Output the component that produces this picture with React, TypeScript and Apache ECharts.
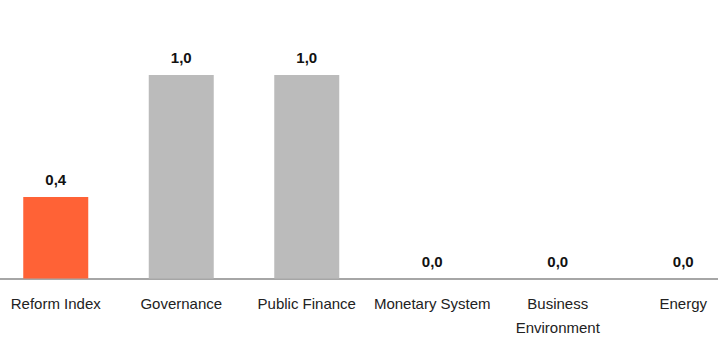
import React, { useEffect, useRef } from "react";
import * as echarts from "echarts";

const categories = ["Reform Index", "Governance", "Public Finance", "Monetary System", "Business\nEnvironment", "Energy"];
const values = [0.4, 1.0, 1.0, 0.0, 0.0, 0.0];
const highlightIndex = 0;

const FONT = "Liberation Sans, Arial, sans-serif";

export default function App() {
  const ref = useRef<HTMLDivElement>(null);
  useEffect(() => {
    if (!ref.current) return;
    const chart = echarts.init(ref.current, undefined, { renderer: "svg" });
    chart.setOption({
      animation: false,
      grid: { left: 0, right: 0, top: 75, bottom: 77.5, containLabel: false },
      xAxis: {
        type: "category",
        data: categories,
        axisTick: { show: false },
        axisLine: { lineStyle: { color: "#888888", width: 1.5 } },
        axisLabel: { color: "#222222", fontSize: 15, fontFamily: FONT, margin: 13, lineHeight: 24, interval: 0 },
      },
      yAxis: { type: "value", min: 0, max: 1, show: false, splitLine: { show: false } },
      series: [
        {
          type: "bar",
          data: values.map((v, i) => ({
            value: v,
            itemStyle: { color: i === highlightIndex ? "#FF6236" : "#BBBBBB" },
          })),
          barWidth: 65,
          label: {
            show: true,
            position: "top",
            distance: 10,
            fontWeight: "bold",
            fontSize: 15,
            fontFamily: FONT,
            color: "#111111",
            formatter: (p: any) => p.value.toFixed(1).replace(".", ","),
          },
        },
      ],
    });
    return () => chart.dispose();
  }, []);
  return (
    <div style={{ position: "fixed", left: 0, top: 0, width: 718, height: 356, overflow: "hidden", background: "#fff" }}>
      <div ref={ref} style={{ position: "absolute", left: -7.25, top: 0, width: 753, height: 356 }} />
    </div>
  );
}
